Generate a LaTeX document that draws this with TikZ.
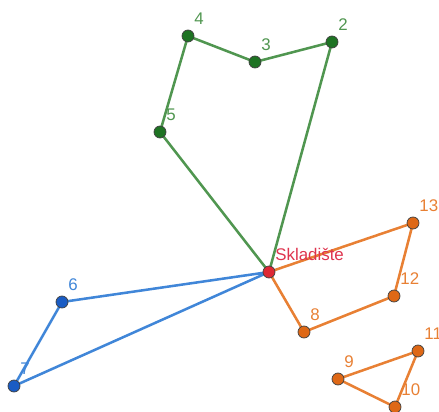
\documentclass[tikz,border=0pt]{standalone}
\usepackage{fontspec}
\setmainfont{Liberation Sans}
\usetikzlibrary{positioning, backgrounds}
\definecolor{linegreen}{RGB}{80,150,80}
\definecolor{dotgreen}{RGB}{30,115,35}
\definecolor{lineorange}{RGB}{232,128,52}
\definecolor{dotorange}{RGB}{222,104,22}
\definecolor{lineblue}{RGB}{64,134,216}
\definecolor{dotblue}{RGB}{26,92,196}
\definecolor{dotred}{RGB}{222,40,52}
\definecolor{textred}{RGB}{222,52,78}
\tikzstyle{stop} = [circle, inner sep=0pt, minimum size=0.3cm, draw=black!75, line width=0.5pt]
\tikzstyle{greenstop} = [stop, fill=dotgreen]
\tikzstyle{orangestop} = [stop, fill=dotorange]
\tikzstyle{bluestop} = [stop, fill=dotblue]
\tikzstyle{depot} = [stop, fill=dotred]
\tikzstyle{numlabel} = [inner sep=0pt, font=\fontsize{12}{14}\selectfont, anchor=south west, xshift=0.04cm, yshift=0.17cm]
\tikzstyle{route} = [line width=1.8pt, line join=round]

\begin{document}
\begin{tikzpicture}[x=0.025cm, y=-0.025cm]
\useasboundingbox (0,0) rectangle (439,412);
\node (s) [depot] at (269,272) {};
\node (p2) [greenstop] at (332,42) {};
\node (p3) [greenstop] at (255,62) {};
\node (p4) [greenstop] at (188,36) {};
\node (p5) [greenstop] at (160,132) {};
\node (p6) [bluestop] at (62,302) {};
\node (p7) [bluestop] at (14,386) {};
\node (p8) [orangestop] at (304,332) {};
\node (p9) [orangestop] at (338,379) {};
\node (p10) [orangestop] at (395,407) {};
\node (p11) [orangestop] at (418,351) {};
\node (p12) [orangestop] at (394,296) {};
\node (p13) [orangestop] at (413,223) {};

\node (ls) [numlabel, text=textred] at (s.north east) {Skladište};
\node (l2) [numlabel, text=linegreen] at (p2.north east) {2};
\node (l3) [numlabel, text=linegreen] at (p3.north east) {3};
\node (l4) [numlabel, text=linegreen] at (p4.north east) {4};
\node (l5) [numlabel, text=linegreen] at (p5.north east) {5};
\node (l6) [numlabel, text=lineblue] at (p6.north east) {6};
\node (l7) [numlabel, text=lineblue] at (p7.north east) {7};
\node (l8) [numlabel, text=lineorange] at (p8.north east) {8};
\node (l9) [numlabel, text=lineorange] at (p9.north east) {9};
\node (l10) [numlabel, text=lineorange] at (p10.north east) {10};
\node (l11) [numlabel, text=lineorange] at (p11.north east) {11};
\node (l12) [numlabel, text=lineorange] at (p12.north east) {12};
\node (l13) [numlabel, text=lineorange] at (p13.north east) {13};

\begin{pgfonlayer}{background}
\draw[route, linegreen] (s.center) -- (p2.center) -- (p3.center) -- (p4.center) -- (p5.center) -- (s.center);
\draw[route, lineblue] (s.center) -- (p6.center) -- (p7.center) -- (s.center);
\draw[route, lineorange] (s.center) -- (p13.center) -- (p12.center) -- (p8.center) -- (s.center);
\draw[route, lineorange] (p9.center) -- (p11.center) -- (p10.center) -- (p9.center);
\end{pgfonlayer}
\end{tikzpicture}
\end{document}
